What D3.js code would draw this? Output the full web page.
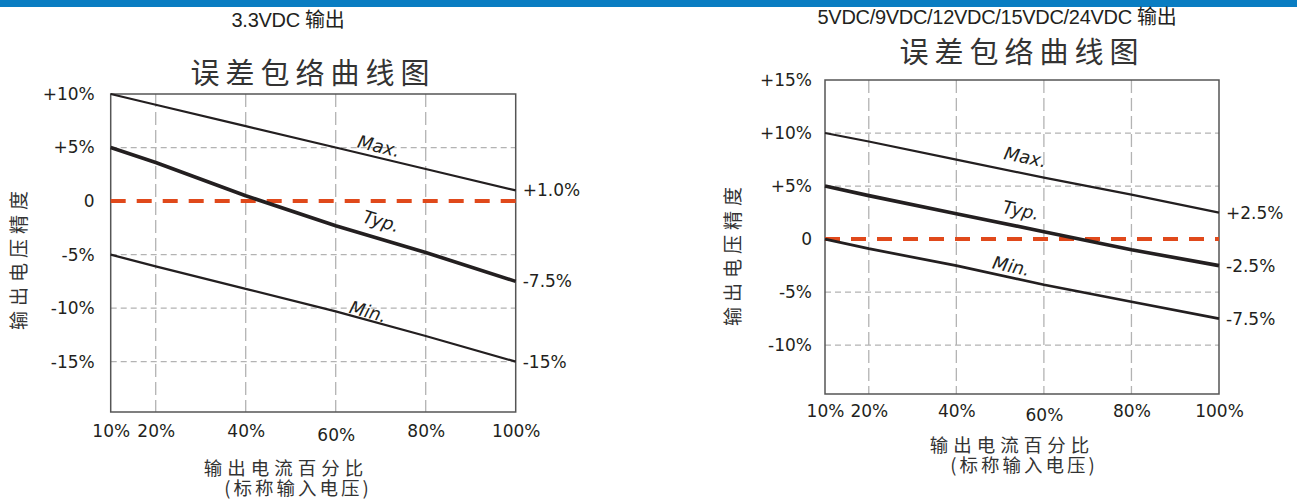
<!DOCTYPE html>
<html>
<head>
<meta charset="utf-8">
<script src="https://cdn.jsdelivr.net/npm/d3@7"></script>
<style>
  body { margin: 0; background: #fff; }
  svg { display: block; }
</style>
</head>
<body>
<div class="workspace"></div>
<script>
// load points (% of rated output current)
const loadPct = [10, 20, 40, 60, 80, 100];
const xTickValues = [10, 20, 40, 60, 80, 100];
const xTickLabels = ['10%', '20%', '40%', '60%', '80%', '100%'];

// 3.3VDC output
const maxA = [10, 9, 7, 5, 3, 1];
const typA = [5, 3.6, 0.5, -2.3, -4.8, -7.5];
const minA = [-5, -6.1, -8.2, -10.3, -12.6, -15];
const yTicksA = [10, 5, 0, -5, -10, -15];
const yTickLabelsA = ['+10%', '+5%', '0', '-5%', '-10%', '-15%'];
const endLabelsA = ['+1.0%', '-7.5%', '-15%'];

// 5/9/12/15/24VDC output
const maxB = [10, 9.2, 7.5, 5.8, 4.2, 2.5];
const typB = [5, 4.1, 2.4, 0.7, -1.0, -2.5];
const minB = [0, -0.9, -2.5, -4.3, -5.9, -7.5];
const yTicksB = [15, 10, 5, 0, -5, -10];
const yTickLabelsB = ['+15%', '+10%', '+5%', '0', '-5%', '-10%'];
const endLabelsB = ['+2.5%', '-2.5%', '-7.5%'];

const seriesNames = ['Max.', 'Typ.', 'Min.'];

const width = 1297;
const height = 499;
const cjk = '"Noto Sans CJK SC", sans-serif';
const num = '"DejaVu Sans", sans-serif';
const ink = '#231f20';

const svg = d3
  .select('.workspace')
  .append('svg')
  .attr('width', width)
  .attr('height', height)
  .attr('viewBox', `0 0 ${width} ${height}`);

svg.append('rect').attr('width', width).attr('height', 7).attr('fill', '#0a7dc2');

function drawPanel(p) {
  const x = d3.scaleLinear().domain([10, 100]).range([p.left, p.right]);
  const y = d3.scaleLinear().domain(p.yDomain).range([p.top, p.bottom]);
  const g = svg.append('g');

  // headings
  g.append('text')
    .attr('x', p.headX)
    .attr('y', p.headY)
    .attr('text-anchor', 'middle')
    .style('font-family', '"Liberation Sans", ' + cjk)
    .style('font-size', '20px')
    .style('letter-spacing', '-0.3px')
    .attr('fill', ink)
    .text(p.heading);

  g.append('text')
    .attr('x', p.titleX)
    .attr('y', p.titleY)
    .attr('text-anchor', 'middle')
    .style('font-family', cjk)
    .style('font-size', '29px')
    .style('letter-spacing', '6px')
    .attr('fill', '#333')
    .text('误差包络曲线图');

  // grid
  g.selectAll('.vgrid')
    .data(xTickValues.filter((d) => d > 10 && d < 100))
    .enter()
    .append('line')
    .attr('x1', (d) => x(d))
    .attr('x2', (d) => x(d))
    .attr('y1', p.top)
    .attr('y2', p.bottom)
    .attr('stroke', '#b3b3b3')
    .attr('stroke-width', 1.3)
    .attr('stroke-dasharray', '13 5');

  g.selectAll('.hgrid')
    .data(p.yTicks.filter((d) => d !== 0 && y(d) > p.top + 1))
    .enter()
    .append('line')
    .attr('x1', p.left)
    .attr('x2', p.right)
    .attr('y1', (d) => y(d))
    .attr('y2', (d) => y(d))
    .attr('stroke', '#b3b3b3')
    .attr('stroke-width', 1.2)
    .attr('stroke-dasharray', '6 4');

  g.append('rect')
    .attr('x', p.left)
    .attr('y', p.top)
    .attr('width', p.right - p.left)
    .attr('height', p.bottom - p.top)
    .attr('fill', 'none')
    .attr('stroke', '#555')
    .attr('stroke-width', 1.5);

  // zero reference
  g.append('line')
    .attr('x1', p.left)
    .attr('x2', p.right)
    .attr('y1', y(0))
    .attr('y2', y(0))
    .attr('stroke', '#e0491b')
    .attr('stroke-width', 4)
    .attr('stroke-dasharray', '15 11');

  // axes
  const yAxis = g
    .append('g')
    .attr('transform', `translate(${p.left},0)`)
    .call(
      d3
        .axisLeft(y)
        .tickValues(p.yTicks)
        .tickFormat((d, i) => p.yTickLabels[i])
        .tickSize(0)
        .tickPadding(p.yPad)
    );
  yAxis.select('.domain').remove();
  yAxis
    .selectAll('text')
    .style('font-family', num)
    .style('font-size', '17px')
    .attr('fill', ink);

  const xAxis = g
    .append('g')
    .attr('transform', `translate(0,${p.bottom})`)
    .call(
      d3
        .axisBottom(x)
        .tickValues(xTickValues)
        .tickFormat((d, i) => xTickLabels[i])
        .tickSize(0)
        .tickPadding(p.xPad)
    );
  xAxis.select('.domain').remove();
  xAxis
    .selectAll('text')
    .style('font-family', num)
    .style('font-size', '17px')
    .attr('fill', ink)
    // the 60% label sits a little lower in the original
    .attr('y', (d) => (d === 60 ? p.xPad + 4 : p.xPad));

  // axis titles
  g.append('text')
    .attr('transform', `translate(${p.yTitleX},${p.yTitleY}) rotate(-90)`)
    .attr('text-anchor', 'middle')
    .style('font-family', cjk)
    .style('font-size', '19px')
    .style('letter-spacing', '5px')
    .attr('fill', '#333')
    .text('输出电压精度');

  const xt = g
    .append('text')
    .attr('text-anchor', 'middle')
    .style('font-family', cjk)
    .style('font-size', '18.5px')
    .style('letter-spacing', '5px')
    .attr('fill', '#333');
  xt.append('tspan').attr('x', p.xTitleX).attr('y', p.xTitleY).text('输出电流百分比');
  xt.append('tspan')
    .attr('x', p.xTitleX + 12)
    .attr('y', p.xTitleY + 20)
    .style('letter-spacing', '3px')
    .text('(标称输入电压)');

  // curves
  const line = d3
    .line()
    .x((d) => x(d[0]))
    .y((d) => y(d[1]));
  const series = [p.max, p.typ, p.min];

  series.forEach((vals, i) => {
    const pts = loadPct.map((d, k) => [d, vals[k]]);
    g.append('path')
      .attr('d', line(pts))
      .attr('fill', 'none')
      .attr('stroke', ink)
      .attr('stroke-width', p.widths[i])
      .attr('stroke-linejoin', 'round');

    // label along the curve
    const f = d3.scaleLinear().domain(loadPct).range(vals);
    const at = p.labelAt[i];
    const lx = x(at);
    const ly = y(f(at));
    const angle =
      (Math.atan2(y(f(at + 5)) - y(f(at - 5)), x(at + 5) - x(at - 5)) * 180) / Math.PI;
    g.append('text')
      .attr('transform', `translate(${lx},${ly}) rotate(${angle})`)
      .attr('y', -p.labelOff[i])
      .attr('text-anchor', 'middle')
      .style('font-family', num)
      .style('font-style', 'italic')
      .style('font-size', '18px')
      .attr('fill', ink)
      .text(seriesNames[i]);

    // end value
    g.append('text')
      .attr('x', p.right + 7)
      .attr('y', y(vals[vals.length - 1]))
      .attr('dy', '0.36em')
      .style('font-family', num)
      .style('font-size', '17px')
      .attr('fill', ink)
      .text(p.endLabels[i]);
  });
}

drawPanel({
  left: 110.7,
  right: 515.7,
  top: 94,
  bottom: 412,
  yDomain: [10, -19.7],
  yTicks: yTicksA,
  yTickLabels: yTickLabelsA,
  endLabels: endLabelsA,
  max: maxA,
  typ: typA,
  min: minA,
  widths: [2.2, 3.6, 2.2],
  yPad: 16,
  xPad: 13,
  heading: '3.3VDC 输出',
  headX: 288,
  headY: 27,
  titleX: 313,
  titleY: 84,
  yTitleX: 26,
  yTitleY: 258,
  xTitleX: 286,
  xTitleY: 475,
  labelAt: [69, 69, 66.7],
  labelOff: [5, 11, 2],
});

drawPanel({
  left: 825,
  right: 1219,
  top: 80,
  bottom: 394,
  yDomain: [15, -14.6],
  yTicks: yTicksB,
  yTickLabels: yTickLabelsB,
  endLabels: endLabelsB,
  max: maxB,
  typ: typB,
  min: minB,
  widths: [2.2, 3.6, 2.7],
  yPad: 13,
  xPad: 11,
  heading: '5VDC/9VDC/12VDC/15VDC/24VDC 输出',
  headX: 997,
  headY: 24,
  titleX: 1022,
  titleY: 63,
  yTitleX: 740,
  yTitleY: 254,
  xTitleX: 1012,
  xTitleY: 452,
  labelAt: [55, 54, 52],
  labelOff: [10, 10, 5],
});
</script>
</body>
</html>
